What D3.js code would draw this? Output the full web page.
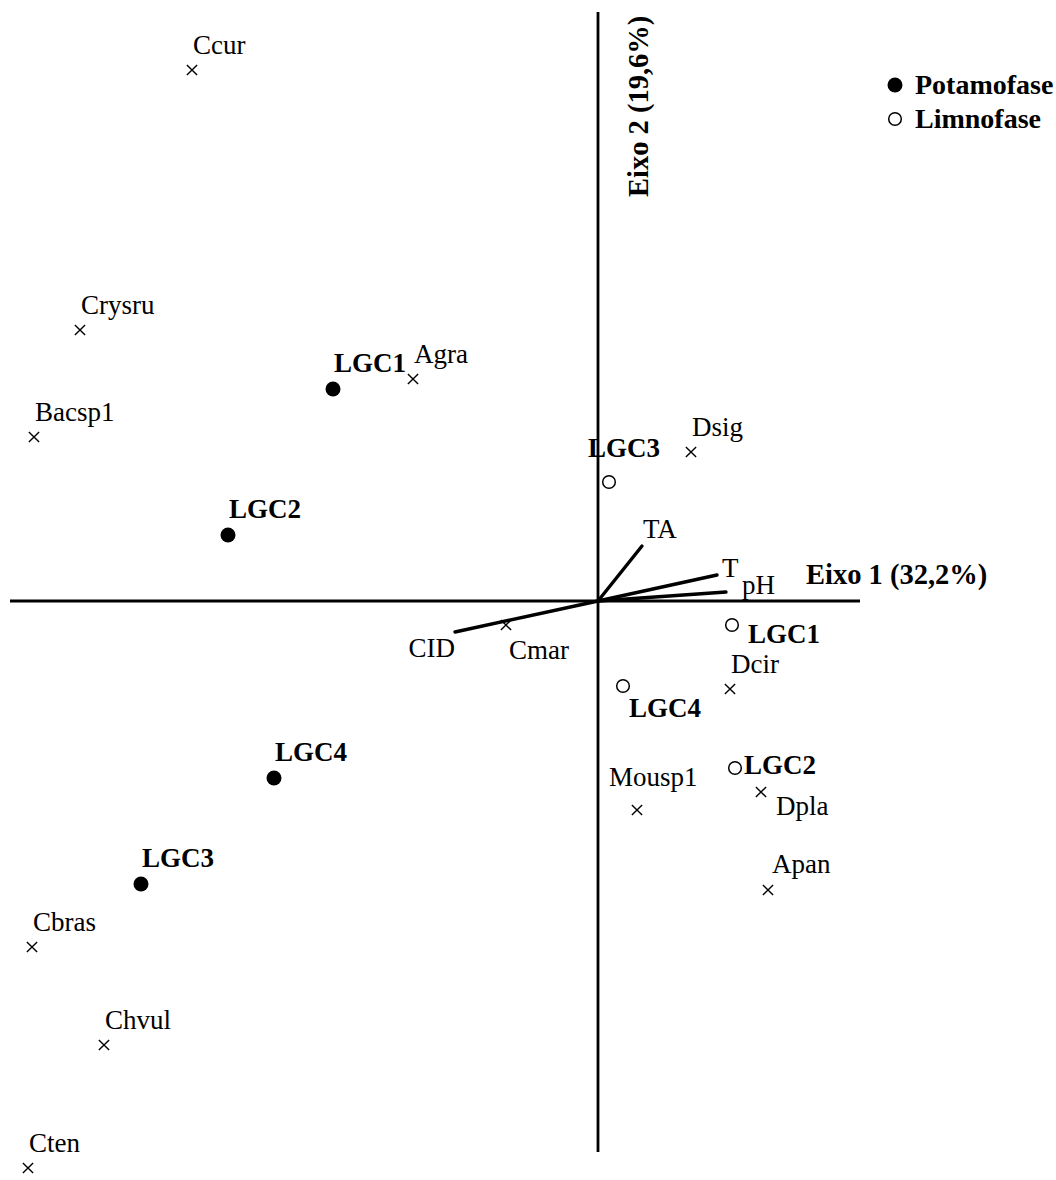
<!DOCTYPE html>
<html>
<head>
<meta charset="utf-8">
<script src="https://cdn.jsdelivr.net/npm/d3@7"></script>
<style>
  html, body { margin: 0; padding: 0; background: #fff; }
  svg { display: block; }
</style>
</head>
<body>
<svg id="chart" width="1056" height="1180"></svg>
<script>
// CCA ordination scores (Eixo 1, Eixo 2)
const speciesNames = ["Ccur", "Crysru", "Agra", "Bacsp1", "Dsig", "Cmar", "Dcir", "Dpla", "Mousp1", "Apan", "Cbras", "Chvul", "Cten"];
const speciesX = [-4.06, -5.18, -1.85, -5.64, 0.93, -0.92, 1.32, 1.63, 0.39, 1.70, -5.66, -4.94, -5.70];
const speciesY = [5.31, 2.71, 2.22, 1.64, 1.49, -0.24, -0.88, -1.91, -2.09, -2.89, -3.46, -4.44, -5.67];

const potamoNames = ["LGC1", "LGC2", "LGC4", "LGC3"];
const potamoX = [-2.65, -3.70, -3.24, -4.57];
const potamoY = [2.12, 0.66, -1.77, -2.83];

const limnoNames = ["LGC3", "LGC1", "LGC4", "LGC2"];
const limnoX = [0.11, 1.34, 0.25, 1.37];
const limnoY = [1.19, -0.24, -0.85, -1.67];

const envNames = ["TA", "T", "pH", "CID"];
const envX = [0.44, 1.19, 1.28, -1.43];
const envY = [0.55, 0.26, 0.09, -0.31];

const axis1Label = "Eixo 1 (32,2%)";
const axis2Label = "Eixo 2 (19,6%)";
const legendLabels = ["Potamofase", "Limnofase"];

// Label placement (pixel offsets from each mark)
const speciesLabelOffset = {
  Cmar: [3, 34], Dpla: [15, 23], Mousp1: [-28, -24], Apan: [4, -17]
};
const limnoLabelOffset = {
  LGC3: [-21, -25], LGC1: [16, 18], LGC4: [6, 31], LGC2: [9, 6]
};
const envLabelOffset = {
  TA: [1, -8, "start"], T: [5, 2, "start"], pH: [16, 2, "start"], CID: [0, 25, "end"]
};

const FONT = "'Times New Roman', 'Liberation Serif', Times, 'DejaVu Serif', serif";
const FS = 27;
const FS_AXIS = 28.5;
const FS_LEGEND = 28;

const svg = d3.select("#chart")
  .attr("font-family", FONT)
  .style("font-family", FONT);

const x = d3.scaleLinear().domain([-5.88, 2.62]).range([10, 860]);
const y = d3.scaleLinear().domain([-5.51, 5.89]).range([1152, 12]);

// Axes through the origin
svg.append("line")
  .attr("x1", x(-5.88)).attr("x2", x(2.62))
  .attr("y1", y(0)).attr("y2", y(0))
  .attr("stroke", "#000").attr("stroke-width", 2.8);
svg.append("line")
  .attr("x1", x(0)).attr("x2", x(0))
  .attr("y1", y(5.89)).attr("y2", y(-5.51))
  .attr("stroke", "#000").attr("stroke-width", 2.8);

svg.append("text")
  .attr("x", 806).attr("y", 584)
  .attr("font-size", FS_AXIS).attr("font-weight", "bold")
  .text(axis1Label);
svg.append("text")
  .attr("transform", `translate(648,197) rotate(-90)`)
  .attr("font-size", FS_AXIS).attr("font-weight", "bold")
  .text(axis2Label);

// Environmental vectors
const env = envNames.map((n, i) => ({ n, x: envX[i], y: envY[i] }));
svg.selectAll("line.env").data(env).enter().append("line")
  .attr("class", "env")
  .attr("x1", x(0)).attr("y1", y(0))
  .attr("x2", d => x(d.x)).attr("y2", d => y(d.y))
  .attr("stroke", "#000").attr("stroke-width", 3.4).attr("stroke-linecap", "round");
svg.selectAll("text.env").data(env).enter().append("text")
  .attr("class", "env")
  .attr("x", d => x(d.x) + envLabelOffset[d.n][0])
  .attr("y", d => y(d.y) + envLabelOffset[d.n][1])
  .attr("text-anchor", d => envLabelOffset[d.n][2])
  .attr("font-size", FS)
  .text(d => d.n);

// Species (cross markers)
const species = speciesNames.map((n, i) => ({ n, x: speciesX[i], y: speciesY[i] }));
const cross = d3.symbol().type(d3.symbolTimes).size(70);
svg.selectAll("path.sp").data(species).enter().append("path")
  .attr("class", "sp")
  .attr("transform", d => `translate(${x(d.x)},${y(d.y)})`)
  .attr("d", cross)
  .attr("fill", "none").attr("stroke", "#000").attr("stroke-width", 1.4);
svg.selectAll("text.sp").data(species).enter().append("text")
  .attr("class", "sp")
  .attr("x", d => x(d.x) + (speciesLabelOffset[d.n] ? speciesLabelOffset[d.n][0] : 1))
  .attr("y", d => y(d.y) + (speciesLabelOffset[d.n] ? speciesLabelOffset[d.n][1] : -16))
  .attr("font-size", FS)
  .text(d => d.n);

// Potamofase samples (filled circles)
const potamo = potamoNames.map((n, i) => ({ n, x: potamoX[i], y: potamoY[i] }));
svg.selectAll("circle.pot").data(potamo).enter().append("circle")
  .attr("class", "pot")
  .attr("cx", d => x(d.x)).attr("cy", d => y(d.y)).attr("r", 7.5)
  .attr("fill", "#000");
svg.selectAll("text.pot").data(potamo).enter().append("text")
  .attr("class", "pot")
  .attr("x", d => x(d.x) + 1).attr("y", d => y(d.y) - 17)
  .attr("font-size", FS).attr("font-weight", "bold")
  .text(d => d.n);

// Limnofase samples (open circles)
const limno = limnoNames.map((n, i) => ({ n, x: limnoX[i], y: limnoY[i] }));
svg.selectAll("circle.lim").data(limno).enter().append("circle")
  .attr("class", "lim")
  .attr("cx", d => x(d.x)).attr("cy", d => y(d.y)).attr("r", 6.3)
  .attr("fill", "#fff").attr("stroke", "#000").attr("stroke-width", 1.5);
svg.selectAll("text.lim").data(limno).enter().append("text")
  .attr("class", "lim")
  .attr("x", d => x(d.x) + limnoLabelOffset[d.n][0])
  .attr("y", d => y(d.y) + limnoLabelOffset[d.n][1])
  .attr("font-size", FS).attr("font-weight", "bold")
  .text(d => d.n);

// Legend
const legend = svg.append("g").attr("transform", "translate(895,85)");
legend.append("circle").attr("cx", 0).attr("cy", 0).attr("r", 7.5).attr("fill", "#000");
legend.append("text").attr("x", 20).attr("y", 9).attr("font-size", FS_LEGEND).attr("font-weight", "bold").text(legendLabels[0]);
legend.append("circle").attr("cx", 0).attr("cy", 34).attr("r", 6.3)
  .attr("fill", "#fff").attr("stroke", "#000").attr("stroke-width", 1.5);
legend.append("text").attr("x", 20).attr("y", 43).attr("font-size", FS_LEGEND).attr("font-weight", "bold").text(legendLabels[1]);
</script>
</body>
</html>
